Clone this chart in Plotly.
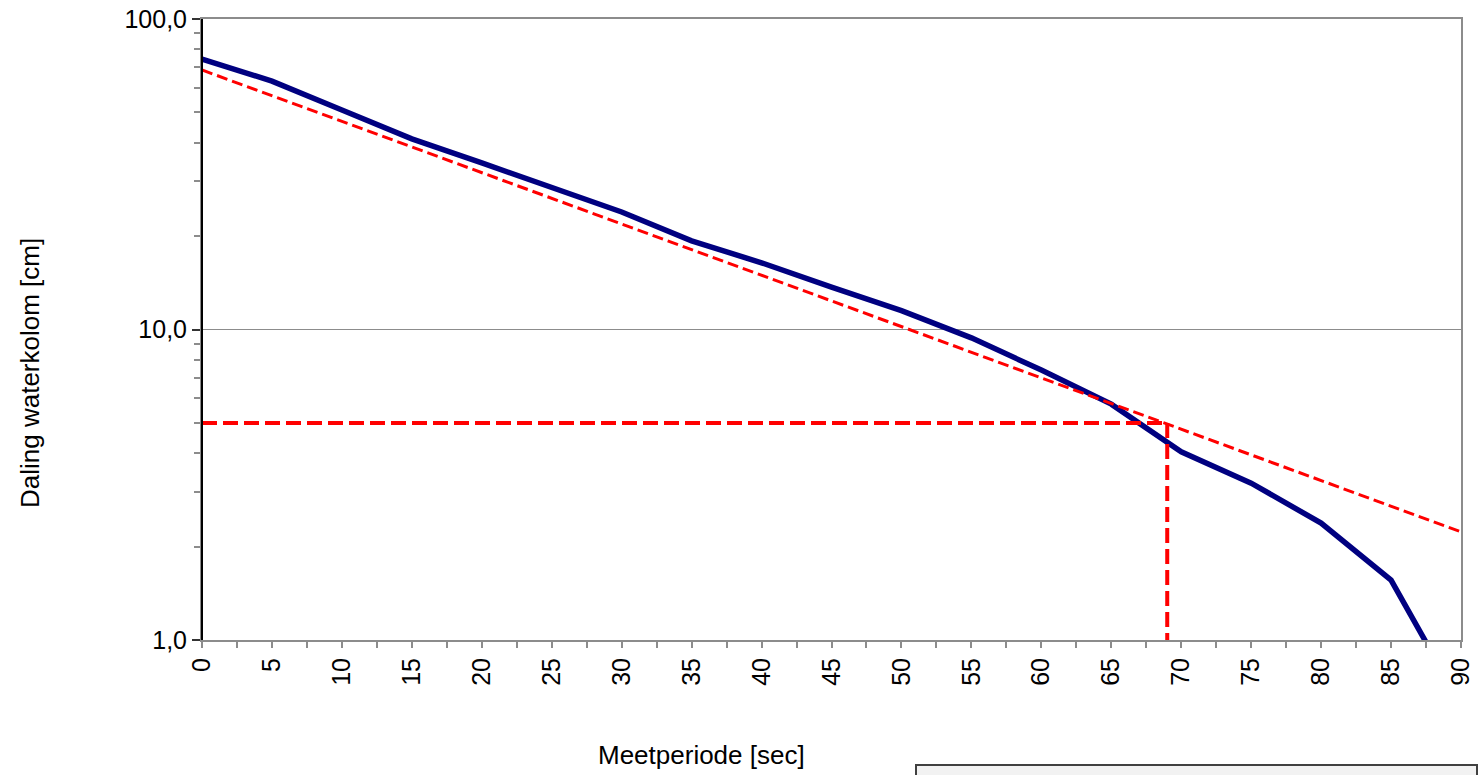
import plotly.graph_objects as go

# Data
tijd_sec = [0, 5, 10, 15, 20, 25, 30, 35, 40, 45, 50, 55, 60, 65, 70, 75, 80, 85, 90]
daling_cm = [74.3, 63.1, 50.9, 41.1, 34.4, 28.6, 23.9, 19.3, 16.4, 13.7, 11.5, 9.4,
             7.4, 5.75, 4.04, 3.20, 2.38, 1.56, 0.62]

trend_x = [0, 90]
trend_y = [68.5, 2.23]

ref_x = [0, 69]
ref_y = [5, 5]
ref_vx = [69, 69]
ref_vy = [5, 1]

x_ticks = list(range(0, 95, 5))
y_ticks = [1, 10, 100]

FONT = "Liberation Sans, Arial, Helvetica, sans-serif"

W, H = 1483, 775
L, R, T, B = 202, 22, 19, 135
PW = W - L - R
PH = H - T - B


def px_to_paper_x(px):
    return (px - L) / PW


def px_to_paper_y(py):
    return (H - B - py) / PH


fig = go.Figure()
fig.add_trace(go.Scatter(x=tijd_sec, y=daling_cm, mode="lines",
                         line=dict(color="#000080", width=5.5), showlegend=False))
fig.add_trace(go.Scatter(x=trend_x, y=trend_y, mode="lines",
                         line=dict(color="#ff0000", width=3, dash="11px,5px"), showlegend=False))
fig.add_trace(go.Scatter(x=ref_x, y=ref_y, mode="lines",
                         line=dict(color="#ff0000", width=4, dash="15px,6px"), showlegend=False))
fig.add_trace(go.Scatter(x=ref_vx, y=ref_vy, mode="lines",
                         line=dict(color="#ff0000", width=4, dash="15px,6px"), showlegend=False))

fig.update_layout(
    width=W, height=H,
    margin=dict(l=L, r=R, t=T, b=B, autoexpand=False),
    paper_bgcolor="white", plot_bgcolor="white",
    separators=",.",
    font=dict(family=FONT, size=25, color="black"),
    showlegend=False,
    xaxis=dict(
        range=[0, 90], tickvals=x_ticks, tickangle=-90, automargin=False,
        ticklabeloverflow="allow",
        showline=True, linecolor="#8c8c8c", linewidth=2, mirror=True,
        ticks="outside", ticklen=6, tickcolor="#8c8c8c", tickwidth=2,
        minor=dict(dtick=2.5, ticks="outside", ticklen=6, tickcolor="#8c8c8c", tickwidth=2),
        showgrid=False, zeroline=False,
        tickfont=dict(family=FONT, size=25, color="black"),
    ),
    yaxis=dict(
        type="log", range=[0, 2], tickvals=y_ticks, tickformat=".1f",
        automargin=False, ticklabeloverflow="allow",
        showline=True, linecolor="#8c8c8c", linewidth=2, mirror=True,
        ticks="outside", ticklen=8, tickcolor="#333333", tickwidth=2,
        minor=dict(dtick="D1", ticks="outside", ticklen=6, tickcolor="#8c8c8c", tickwidth=2,
                   showgrid=False),
        showgrid=True, gridcolor="#8c8c8c", gridwidth=1,
        zeroline=False,
        tickfont=dict(family=FONT, size=25, color="black"),
    ),
    shapes=[
        dict(type="line", xref="paper", yref="paper", x0=0, x1=0, y0=0, y1=1,
             line=dict(color="black", width=2)),
        dict(type="rect", xref="paper", yref="paper",
             x0=px_to_paper_x(916), x1=px_to_paper_x(1477),
             y0=px_to_paper_y(800), y1=px_to_paper_y(765), fillcolor="#f2f2f2",
             line=dict(color="#404040", width=2)),
    ],
    annotations=[
        dict(text="Meetperiode [sec]", xref="paper", yref="paper",
             x=px_to_paper_x(701), y=px_to_paper_y(755), showarrow=False,
             xanchor="center", yanchor="middle",
             font=dict(family=FONT, size=26, color="black")),
        dict(text="Daling waterkolom [cm]", xref="paper", yref="paper",
             x=px_to_paper_x(30), y=px_to_paper_y(373), showarrow=False, textangle=-90,
             xanchor="center", yanchor="middle",
             font=dict(family=FONT, size=26, color="black")),
    ],
)

fig.write_html(
    "out.html",
    config={"displayModeBar": False},
    post_script="document.body.style.margin='0';document.body.style.overflow='hidden';",
)
